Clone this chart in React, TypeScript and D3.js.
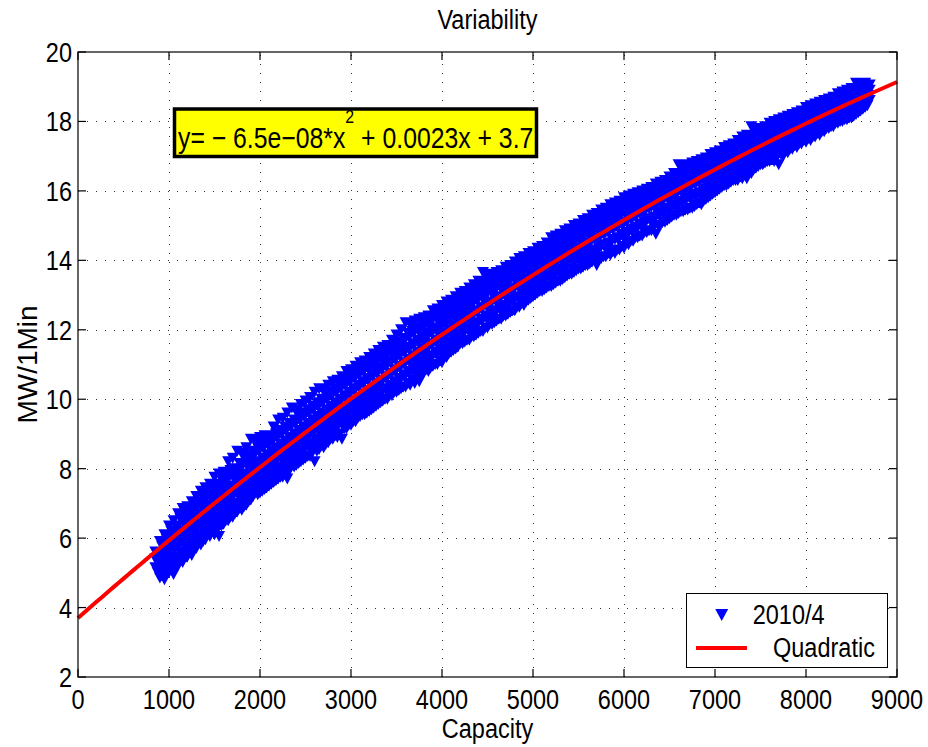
import React from 'react';
import * as d3 from 'd3';

// ---------- data ----------
const xTicks = [0, 1000, 2000, 3000, 4000, 5000, 6000, 7000, 8000, 9000];
const yTicks = [2, 4, 6, 8, 10, 12, 14, 16, 18, 20];
const fitCoefficients = [-6.5e-8, 0.0023, 3.7]; // y = a*x^2 + b*x + c (shown in the chart)
const titleText = 'Variability';
const xLabel = 'Capacity';
const yLabel = 'MW/1Min';
const legendLabels = ['2010/4', 'Quadratic'];

// capacity (MW) -> observed MW/1Min values (outer part of the cloud)
const scatterColumns: [number, number[]][] = [
  [850, [5.15, 5.4, 5.6]],
  [900, [4.85, 5.1, 5.35, 5.6, 5.9]],
  [950, [4.8, 5.05, 5.3, 5.55, 5.85, 6.1]],
  [1000, [5.0, 5.25, 5.5, 5.8, 6.05, 6.35]],
  [1050, [4.95, 5.3, 5.6, 5.9, 6.2, 6.5]],
  [1100, [5.2, 5.45, 5.75, 6.05, 6.35, 6.7]],
  [1150, [5.3, 5.6, 5.9, 6.2, 6.5, 6.85]],
  [1200, [5.45, 5.7, 6.0, 6.3, 6.6, 6.9]],
  [1250, [5.5, 5.8, 6.1, 6.4, 6.75, 7.05]],
  [1300, [5.7, 5.95, 6.25, 6.55, 6.85, 7.2]],
  [1350, [5.8, 6.1, 6.4, 6.7, 7.0, 7.35]],
  [1400, [5.95, 6.2, 6.5, 6.8, 7.1, 7.45]],
  [1450, [6.05, 6.35, 6.6, 6.9, 7.25, 7.55]],
  [1500, [6.1, 6.4, 6.7, 7.0, 7.35, 7.75]],
  [1550, [6.05, 6.35, 6.75, 7.1, 7.45, 7.85]],
  [1600, [6.4, 6.65, 6.95, 7.25, 7.55, 7.9]],
  [1650, [6.5, 6.8, 7.05, 7.35, 7.7, 8.2]],
  [1700, [6.6, 6.9, 7.2, 7.5, 7.8, 8.3]],
  [1750, [6.75, 7.0, 7.3, 7.6, 7.9, 8.5]],
  [1800, [6.8, 7.05, 7.35, 7.7, 8.05, 8.45]],
  [1850, [6.95, 7.2, 7.5, 7.8, 8.15, 8.6]],
  [1900, [7.1, 7.35, 7.65, 7.95, 8.3, 8.85]],
  [1950, [7.3, 7.55, 7.8, 8.1, 8.45, 8.8]],
  [2000, [7.3, 7.6, 7.9, 8.2, 8.55, 8.9]],
  [2050, [7.4, 7.7, 8.0, 8.3, 8.65, 8.95]],
  [2100, [7.5, 7.8, 8.1, 8.4, 8.7, 8.95]],
  [2150, [7.6, 7.9, 8.2, 8.5, 8.85, 9.2]],
  [2200, [7.7, 8.0, 8.3, 8.6, 8.95, 9.4]],
  [2250, [7.75, 8.05, 8.4, 8.7, 9.05, 9.45]],
  [2300, [7.7, 8.1, 8.45, 8.8, 9.15, 9.6]],
  [2350, [8.1, 8.35, 8.6, 8.9, 9.25, 9.75]],
  [2400, [8.1, 8.4, 8.7, 9.0, 9.35, 9.7]],
  [2450, [8.2, 8.5, 8.8, 9.1, 9.45, 9.85]],
  [2500, [8.3, 8.6, 8.9, 9.2, 9.55, 9.95]],
  [2550, [8.35, 8.7, 9.0, 9.3, 9.65, 10.05]],
  [2600, [8.2, 8.6, 9.1, 9.4, 9.75, 10.2]],
  [2650, [8.55, 8.85, 9.15, 9.5, 9.85, 10.3]],
  [2700, [8.6, 8.9, 9.25, 9.6, 9.95, 10.3]],
  [2750, [8.75, 9.0, 9.35, 9.7, 10.05, 10.4]],
  [2800, [8.85, 9.1, 9.45, 9.8, 10.15, 10.5]],
  [2850, [8.9, 9.2, 9.55, 9.9, 10.25, 10.55]],
  [2900, [8.85, 9.3, 9.65, 10.0, 10.35, 10.65]],
  [2950, [9.15, 9.45, 9.75, 10.1, 10.45, 10.8]],
  [3000, [9.25, 9.55, 9.85, 10.2, 10.55, 10.85]],
  [3050, [9.35, 9.65, 9.95, 10.3, 10.65, 10.95]],
  [3100, [9.5, 9.75, 10.05, 10.4, 10.75, 11.05]],
  [3150, [9.55, 9.85, 10.15, 10.5, 10.85, 11.1]],
  [3200, [9.65, 9.95, 10.25, 10.6, 10.9, 11.2]],
  [3250, [9.75, 10.05, 10.35, 10.7, 11.0, 11.3]],
  [3300, [9.85, 10.15, 10.45, 10.8, 11.1, 11.4]],
  [3350, [9.95, 10.25, 10.55, 10.9, 11.2, 11.5]],
  [3400, [10.0, 10.3, 10.65, 11.0, 11.3, 11.55]],
  [3450, [10.1, 10.4, 10.75, 11.1, 11.4, 11.7]],
  [3500, [10.2, 10.5, 10.85, 11.2, 11.5, 11.85]],
  [3550, [10.3, 10.6, 10.95, 11.3, 11.6, 12.0]],
  [3600, [10.35, 10.7, 11.05, 11.4, 11.75, 12.2]],
  [3650, [10.4, 10.75, 11.1, 11.5, 11.85, 12.15]],
  [3700, [10.45, 10.85, 11.2, 11.6, 11.95, 12.25]],
  [3750, [10.5, 10.9, 11.3, 11.65, 12.0, 12.3]],
  [3800, [10.75, 11.05, 11.4, 11.75, 12.1, 12.35]],
  [3850, [10.8, 11.15, 11.5, 11.85, 12.2, 12.4]],
  [3900, [10.95, 11.25, 11.6, 11.95, 12.3, 12.55]],
  [3950, [11.0, 11.3, 11.65, 12.0, 12.35, 12.6]],
  [4000, [11.05, 11.4, 11.75, 12.1, 12.45, 12.7]],
  [4050, [11.2, 11.5, 11.85, 12.2, 12.5, 12.8]],
  [4100, [11.35, 11.6, 11.95, 12.3, 12.6, 12.85]],
  [4150, [11.45, 11.7, 12.05, 12.4, 12.7, 12.95]],
  [4200, [11.6, 11.85, 12.15, 12.5, 12.8, 13.05]],
  [4250, [11.65, 11.95, 12.25, 12.6, 12.9, 13.1]],
  [4300, [11.7, 12.0, 12.35, 12.7, 13.0, 13.2]],
  [4350, [11.8, 12.1, 12.45, 12.8, 13.1, 13.3]],
  [4400, [11.9, 12.2, 12.55, 12.9, 13.2, 13.4]],
  [4450, [11.95, 12.3, 12.65, 12.95, 13.3, 13.65]],
  [4500, [12.05, 12.35, 12.7, 13.05, 13.35, 13.55]],
  [4550, [12.15, 12.45, 12.8, 13.1, 13.4, 13.6]],
  [4600, [12.25, 12.55, 12.9, 13.2, 13.5, 13.65]],
  [4650, [12.3, 12.6, 12.95, 13.25, 13.55, 13.7]],
  [4700, [12.4, 12.7, 13.05, 13.35, 13.65, 13.8]],
  [4750, [12.5, 12.8, 13.15, 13.45, 13.7, 13.85]],
  [4800, [12.55, 12.9, 13.2, 13.5, 13.8, 13.95]],
  [4850, [12.65, 12.95, 13.3, 13.6, 13.9, 14.05]],
  [4900, [12.7, 13.05, 13.4, 13.7, 13.95, 14.1]],
  [4950, [12.85, 13.15, 13.45, 13.75, 14.05, 14.2]],
  [5000, [12.95, 13.25, 13.55, 13.85, 14.1, 14.25]],
  [5050, [13.05, 13.35, 13.65, 13.95, 14.2, 14.35]],
  [5100, [13.1, 13.4, 13.7, 14.0, 14.25, 14.4]],
  [5150, [13.2, 13.5, 13.8, 14.1, 14.35, 14.5]],
  [5200, [13.25, 13.55, 13.9, 14.2, 14.45, 14.65]],
  [5250, [13.35, 13.65, 13.95, 14.25, 14.5, 14.7]],
  [5300, [13.4, 13.7, 14.05, 14.35, 14.6, 14.75]],
  [5350, [13.5, 13.8, 14.1, 14.4, 14.65, 14.85]],
  [5400, [13.6, 13.9, 14.2, 14.5, 14.75, 14.9]],
  [5450, [13.65, 13.95, 14.3, 14.55, 14.8, 15.0]],
  [5500, [13.75, 14.05, 14.35, 14.65, 14.9, 15.05]],
  [5550, [13.8, 14.1, 14.45, 14.7, 14.95, 15.15]],
  [5600, [13.85, 14.2, 14.5, 14.8, 15.05, 15.2]],
  [5650, [13.95, 14.25, 14.6, 14.85, 15.1, 15.3]],
  [5700, [13.85, 14.3, 14.65, 14.95, 15.2, 15.35]],
  [5750, [14.05, 14.4, 14.75, 15.0, 15.25, 15.45]],
  [5800, [14.1, 14.45, 14.8, 15.1, 15.35, 15.5]],
  [5850, [14.15, 14.5, 14.9, 15.15, 15.4, 15.6]],
  [5900, [14.2, 14.6, 14.95, 15.25, 15.5, 15.65]],
  [5950, [14.3, 14.65, 15.05, 15.3, 15.55, 15.7]],
  [6000, [14.35, 14.7, 15.1, 15.4, 15.6, 15.8]],
  [6050, [14.45, 14.8, 15.2, 15.45, 15.7, 15.85]],
  [6100, [14.55, 14.9, 15.25, 15.5, 15.75, 15.9]],
  [6150, [14.65, 14.95, 15.35, 15.6, 15.8, 15.95]],
  [6200, [14.7, 15.05, 15.4, 15.65, 15.85, 16.0]],
  [6250, [14.8, 15.15, 15.5, 15.75, 15.95, 16.05]],
  [6300, [14.85, 15.2, 15.55, 15.8, 16.0, 16.1]],
  [6350, [14.75, 15.25, 15.6, 15.85, 16.05, 16.2]],
  [6400, [15.0, 15.35, 15.7, 15.95, 16.1, 16.25]],
  [6450, [15.1, 15.45, 15.8, 16.0, 16.2, 16.3]],
  [6500, [15.2, 15.5, 15.85, 16.1, 16.25, 16.4]],
  [6550, [15.3, 15.6, 15.9, 16.15, 16.35, 16.5]],
  [6600, [15.35, 15.65, 16.0, 16.25, 16.45, 16.75]],
  [6650, [15.4, 15.7, 16.05, 16.3, 16.5, 16.7]],
  [6700, [15.45, 15.8, 16.15, 16.4, 16.6, 16.75]],
  [6750, [15.5, 15.85, 16.2, 16.45, 16.65, 16.8]],
  [6800, [15.6, 15.9, 16.25, 16.5, 16.7, 16.85]],
  [6850, [15.6, 15.95, 16.35, 16.6, 16.75, 16.9]],
  [6900, [15.75, 16.05, 16.4, 16.65, 16.85, 16.95]],
  [6950, [15.85, 16.15, 16.5, 16.7, 16.9, 17.05]],
  [7000, [15.95, 16.25, 16.55, 16.8, 17.0, 17.1]],
  [7050, [16.05, 16.3, 16.6, 16.85, 17.05, 17.15]],
  [7100, [16.15, 16.4, 16.7, 16.95, 17.15, 17.25]],
  [7150, [16.2, 16.45, 16.75, 17.0, 17.2, 17.3]],
  [7200, [16.3, 16.55, 16.85, 17.1, 17.25, 17.35]],
  [7250, [16.3, 16.6, 16.9, 17.15, 17.3, 17.45]],
  [7300, [16.35, 16.65, 16.95, 17.2, 17.4, 17.55]],
  [7350, [16.35, 16.7, 17.0, 17.25, 17.45, 17.6]],
  [7400, [16.5, 16.8, 17.1, 17.35, 17.55, 17.85]],
  [7450, [16.65, 16.9, 17.15, 17.4, 17.6, 17.75]],
  [7500, [16.75, 17.0, 17.25, 17.5, 17.7, 17.8]],
  [7550, [16.8, 17.05, 17.3, 17.55, 17.75, 17.85]],
  [7600, [16.85, 17.1, 17.35, 17.6, 17.8, 17.95]],
  [7650, [16.85, 17.15, 17.4, 17.65, 17.85, 18.0]],
  [7700, [16.75, 17.2, 17.45, 17.7, 17.9, 18.05]],
  [7750, [17.0, 17.3, 17.55, 17.8, 17.95, 18.1]],
  [7800, [17.1, 17.35, 17.6, 17.85, 18.0, 18.15]],
  [7850, [17.2, 17.45, 17.7, 17.9, 18.1, 18.2]],
  [7900, [17.25, 17.5, 17.75, 17.95, 18.15, 18.25]],
  [7950, [17.35, 17.6, 17.8, 18.05, 18.2, 18.3]],
  [8000, [17.4, 17.65, 17.9, 18.1, 18.25, 18.4]],
  [8050, [17.45, 17.7, 17.95, 18.15, 18.3, 18.45]],
  [8100, [17.55, 17.8, 18.0, 18.2, 18.35, 18.5]],
  [8150, [17.6, 17.85, 18.05, 18.25, 18.4, 18.55]],
  [8200, [17.7, 17.9, 18.1, 18.3, 18.45, 18.6]],
  [8250, [17.8, 18.0, 18.2, 18.4, 18.55, 18.65]],
  [8300, [17.85, 18.05, 18.25, 18.45, 18.6, 18.7]],
  [8350, [17.95, 18.15, 18.3, 18.5, 18.65, 18.8]],
  [8400, [18.0, 18.2, 18.4, 18.55, 18.7, 18.85]],
  [8450, [18.05, 18.25, 18.45, 18.6, 18.75, 18.9]],
  [8500, [18.1, 18.3, 18.5, 18.65, 18.8, 18.95]],
  [8550, [18.2, 18.4, 18.55, 18.7, 18.9, 19.1]],
  [8600, [18.3, 18.45, 18.6, 18.75, 18.95, 19.1]],
  [8650, [18.4, 18.55, 18.7, 18.85, 19.0, 19.1]],
  [8700, [18.6, 18.75, 18.9, 19.05]],
];

// capacity (MW) -> observed MW/1Min values (dense core of the cloud)
const scatterCore: [number, number[]][] = [
  [875, [5.0, 5.3, 5.55]],
  [925, [5.0, 5.25, 5.5, 5.75]],
  [975, [4.95, 5.2, 5.45, 5.7, 5.95]],
  [1025, [5.15, 5.4, 5.65, 5.95, 6.2]],
  [1075, [5.1, 5.45, 5.75, 6.05, 6.35]],
  [1125, [5.35, 5.6, 5.9, 6.2, 6.55]],
  [1175, [5.45, 5.75, 6.05, 6.35, 6.65]],
  [1225, [5.6, 5.85, 6.15, 6.45, 6.8]],
  [1275, [5.65, 5.95, 6.25, 6.6, 6.9]],
  [1325, [5.85, 6.1, 6.4, 6.7, 7.05]],
  [1375, [5.9, 6.25, 6.55, 6.85, 7.2]],
  [1425, [6.1, 6.35, 6.65, 6.95, 7.3]],
  [1475, [6.2, 6.5, 6.8, 7.1, 7.45]],
  [1525, [6.25, 6.55, 6.9, 7.2, 7.55]],
  [1575, [6.35, 6.65, 7.0, 7.3, 7.7]],
  [1625, [6.5, 6.8, 7.1, 7.4, 7.8]],
  [1675, [6.6, 6.9, 7.2, 7.5, 7.95]],
  [1725, [6.7, 7.0, 7.3, 7.65, 8.0]],
  [1775, [6.85, 7.15, 7.45, 7.75, 8.15]],
  [1825, [6.9, 7.2, 7.5, 7.85, 8.3]],
  [1875, [7.05, 7.35, 7.65, 8.0, 8.4]],
  [1925, [7.2, 7.45, 7.75, 8.1, 8.5]],
  [1975, [7.25, 7.55, 7.85, 8.2, 8.6]],
  [2025, [7.35, 7.65, 7.95, 8.3, 8.7]],
  [2075, [7.45, 7.75, 8.05, 8.4, 8.8]],
  [2125, [7.55, 7.85, 8.15, 8.5, 8.9]],
  [2175, [7.65, 7.95, 8.25, 8.6, 9.0]],
  [2225, [7.75, 8.05, 8.35, 8.7, 9.1]],
  [2275, [7.85, 8.15, 8.45, 8.8, 9.2]],
  [2325, [7.95, 8.25, 8.55, 8.9, 9.3]],
  [2375, [8.05, 8.35, 8.65, 9.0, 9.4]],
  [2425, [8.15, 8.45, 8.75, 9.1, 9.5]],
  [2475, [8.25, 8.55, 8.85, 9.2, 9.6]],
  [2525, [8.35, 8.65, 8.95, 9.3, 9.7]],
  [2575, [8.45, 8.75, 9.05, 9.4, 9.8]],
  [2625, [8.5, 8.85, 9.15, 9.5, 9.9]],
  [2675, [8.65, 8.95, 9.25, 9.6, 10.0]],
  [2725, [8.7, 9.05, 9.35, 9.7, 10.1]],
  [2775, [8.85, 9.15, 9.45, 9.8, 10.2]],
  [2825, [8.95, 9.25, 9.55, 9.9, 10.3]],
  [2875, [9.0, 9.35, 9.65, 10.0, 10.4]],
  [2925, [9.15, 9.45, 9.75, 10.1, 10.5]],
  [2975, [9.25, 9.55, 9.85, 10.2, 10.6]],
  [3025, [9.35, 9.65, 9.95, 10.3, 10.7]],
  [3075, [9.45, 9.75, 10.05, 10.4, 10.8]],
  [3125, [9.55, 9.85, 10.15, 10.5, 10.9]],
  [3175, [9.6, 9.95, 10.25, 10.6, 10.95]],
  [3225, [9.7, 10.05, 10.35, 10.7, 11.05]],
  [3275, [9.8, 10.15, 10.45, 10.8, 11.15]],
  [3325, [9.9, 10.25, 10.55, 10.9, 11.25]],
  [3375, [10.0, 10.3, 10.65, 11.0, 11.35]],
  [3425, [10.1, 10.4, 10.75, 11.1, 11.45]],
  [3475, [10.2, 10.5, 10.85, 11.2, 11.55]],
  [3525, [10.25, 10.6, 10.95, 11.3, 11.65]],
  [3575, [10.35, 10.7, 11.05, 11.4, 11.75]],
  [3625, [10.45, 10.8, 11.15, 11.5, 11.9]],
  [3675, [10.55, 10.9, 11.25, 11.6, 11.95]],
  [3725, [10.65, 11.0, 11.35, 11.7, 12.05]],
  [3775, [10.7, 11.1, 11.45, 11.8, 12.15]],
  [3825, [10.85, 11.2, 11.55, 11.9, 12.25]],
  [3875, [10.9, 11.25, 11.6, 12.0, 12.35]],
  [3925, [11.0, 11.35, 11.7, 12.05, 12.45]],
  [3975, [11.1, 11.45, 11.8, 12.15, 12.5]],
  [4025, [11.2, 11.55, 11.9, 12.25, 12.6]],
  [4075, [11.3, 11.65, 12.0, 12.35, 12.7]],
  [4125, [11.4, 11.75, 12.1, 12.45, 12.8]],
  [4175, [11.5, 11.85, 12.2, 12.55, 12.9]],
  [4225, [11.6, 11.95, 12.3, 12.65, 12.95]],
  [4275, [11.7, 12.05, 12.4, 12.75, 13.05]],
  [4325, [11.8, 12.15, 12.5, 12.85, 13.15]],
  [4375, [11.85, 12.2, 12.55, 12.9, 13.25]],
  [4425, [11.95, 12.3, 12.65, 13.0, 13.3]],
  [4475, [12.05, 12.4, 12.75, 13.1, 13.4]],
  [4525, [12.15, 12.5, 12.8, 13.15, 13.45]],
  [4575, [12.2, 12.55, 12.9, 13.25, 13.5]],
  [4625, [12.3, 12.65, 12.95, 13.3, 13.6]],
  [4675, [12.4, 12.7, 13.05, 13.4, 13.65]],
  [4725, [12.45, 12.8, 13.1, 13.45, 13.75]],
  [4775, [12.55, 12.85, 13.2, 13.55, 13.8]],
  [4825, [12.65, 12.95, 13.3, 13.6, 13.9]],
  [4875, [12.75, 13.05, 13.35, 13.7, 13.95]],
  [4925, [12.8, 13.1, 13.45, 13.75, 14.05]],
  [4975, [12.9, 13.2, 13.5, 13.85, 14.1]],
  [5025, [13.0, 13.3, 13.6, 13.9, 14.2]],
  [5075, [13.1, 13.4, 13.7, 14.0, 14.25]],
  [5125, [13.15, 13.45, 13.75, 14.05, 14.3]],
  [5175, [13.25, 13.55, 13.85, 14.15, 14.4]],
  [5225, [13.3, 13.6, 13.9, 14.2, 14.45]],
  [5275, [13.4, 13.7, 14.0, 14.3, 14.55]],
  [5325, [13.45, 13.75, 14.05, 14.35, 14.6]],
  [5375, [13.55, 13.85, 14.15, 14.45, 14.7]],
  [5425, [13.6, 13.9, 14.2, 14.5, 14.75]],
  [5475, [13.7, 14.0, 14.3, 14.6, 14.85]],
  [5525, [13.75, 14.05, 14.35, 14.65, 14.9]],
  [5575, [13.85, 14.15, 14.45, 14.75, 15.0]],
  [5625, [13.9, 14.2, 14.5, 14.8, 15.05]],
  [5675, [14.0, 14.3, 14.6, 14.9, 15.15]],
  [5725, [14.05, 14.35, 14.65, 14.95, 15.2]],
  [5775, [14.1, 14.45, 14.75, 15.05, 15.3]],
  [5825, [14.2, 14.5, 14.8, 15.1, 15.35]],
  [5875, [14.25, 14.6, 14.9, 15.2, 15.45]],
  [5925, [14.3, 14.65, 14.95, 15.25, 15.5]],
  [5975, [14.4, 14.75, 15.05, 15.35, 15.55]],
  [6025, [14.5, 14.8, 15.1, 15.4, 15.65]],
  [6075, [14.55, 14.9, 15.2, 15.5, 15.7]],
  [6125, [14.65, 14.95, 15.25, 15.55, 15.75]],
  [6175, [14.7, 15.05, 15.35, 15.6, 15.8]],
  [6225, [14.8, 15.1, 15.4, 15.7, 15.9]],
  [6275, [14.85, 15.2, 15.5, 15.75, 15.95]],
  [6325, [14.95, 15.25, 15.55, 15.8, 16.0]],
  [6375, [15.0, 15.35, 15.65, 15.9, 16.1]],
  [6425, [15.1, 15.4, 15.7, 15.95, 16.15]],
  [6475, [15.15, 15.5, 15.8, 16.05, 16.25]],
  [6525, [15.25, 15.55, 15.85, 16.1, 16.3]],
  [6575, [15.3, 15.6, 15.9, 16.15, 16.4]],
  [6625, [15.4, 15.7, 16.0, 16.25, 16.5]],
  [6675, [15.45, 15.75, 16.05, 16.3, 16.55]],
  [6725, [15.5, 15.8, 16.1, 16.35, 16.6]],
  [6775, [15.55, 15.9, 16.2, 16.45, 16.65]],
  [6825, [15.65, 15.95, 16.25, 16.5, 16.75]],
  [6875, [15.7, 16.0, 16.3, 16.55, 16.8]],
  [6925, [15.8, 16.1, 16.4, 16.65, 16.85]],
  [6975, [15.9, 16.2, 16.45, 16.7, 16.95]],
  [7025, [16.0, 16.25, 16.5, 16.75, 17.0]],
  [7075, [16.1, 16.35, 16.6, 16.85, 17.05]],
  [7125, [16.15, 16.4, 16.65, 16.9, 17.1]],
  [7175, [16.25, 16.5, 16.75, 17.0, 17.2]],
  [7225, [16.3, 16.55, 16.8, 17.05, 17.25]],
  [7275, [16.4, 16.6, 16.85, 17.1, 17.3]],
  [7325, [16.45, 16.7, 16.95, 17.15, 17.35]],
  [7375, [16.55, 16.8, 17.0, 17.25, 17.45]],
  [7425, [16.6, 16.85, 17.05, 17.3, 17.5]],
  [7475, [16.7, 16.9, 17.15, 17.35, 17.6]],
  [7525, [16.75, 17.0, 17.2, 17.45, 17.65]],
  [7575, [16.85, 17.05, 17.3, 17.5, 17.7]],
  [7625, [16.9, 17.1, 17.35, 17.55, 17.75]],
  [7675, [16.95, 17.2, 17.4, 17.6, 17.8]],
  [7725, [17.05, 17.25, 17.45, 17.7, 17.9]],
  [7775, [17.15, 17.35, 17.55, 17.75, 17.95]],
  [7825, [17.2, 17.4, 17.6, 17.8, 18.0]],
  [7875, [17.3, 17.5, 17.65, 17.85, 18.05]],
  [7925, [17.35, 17.55, 17.75, 17.95, 18.1]],
  [7975, [17.45, 17.6, 17.8, 18.0, 18.15]],
  [8025, [17.5, 17.7, 17.85, 18.05, 18.2]],
  [8075, [17.55, 17.75, 17.95, 18.1, 18.25]],
  [8125, [17.65, 17.8, 18.0, 18.15, 18.3]],
  [8175, [17.7, 17.9, 18.05, 18.2, 18.35]],
  [8225, [17.8, 17.95, 18.15, 18.3, 18.45]],
  [8275, [17.85, 18.05, 18.2, 18.35, 18.5]],
  [8325, [17.95, 18.1, 18.25, 18.4, 18.55]],
  [8375, [18.0, 18.15, 18.3, 18.45, 18.6]],
  [8425, [18.05, 18.2, 18.35, 18.5, 18.65]],
  [8475, [18.1, 18.25, 18.4, 18.55, 18.7]],
  [8525, [18.15, 18.3, 18.45, 18.6, 18.75]],
  [8575, [18.25, 18.4, 18.55, 18.7, 18.85]],
  [8625, [18.35, 18.5, 18.65, 18.8, 18.95]],
  [8675, [18.45, 18.6, 18.75, 18.9, 19.0]],
];

// ---------- layout ----------
const W = 928;
const H = 747;
const FONT = '"Liberation Sans", Arial, Helvetica, sans-serif';
const SX = 0.84; // horizontal condensation of the MATLAB font
const FS = 28;
const BLUE = '#0000ff';
const RED = '#ff0000';

const x = d3.scaleLinear().domain([0, 9000]).range([78, 897]);
const y = d3.scaleLinear().domain([2, 20]).range([677, 52]);

const fit = (v: number) => fitCoefficients[0] * v * v + fitCoefficients[1] * v + fitCoefficients[2];

function tri(cx: number, cy: number, w = 12, h = 11) {
  return `M${cx - w / 2},${cy - h / 2}L${cx + w / 2},${cy - h / 2}L${cx},${cy + h / 2}Z`;
}

function T(props: {
  x: number; y: number; size?: number; anchor?: string; rotate?: number; sx?: number; children: React.ReactNode;
}) {
  const { x: tx, y: ty, size = FS, anchor = 'start', rotate, sx = SX, children } = props;
  const tr = `translate(${tx},${ty})${rotate ? ` rotate(${rotate})` : ''} scale(${sx},1)`;
  return (
    <text transform={tr} fontSize={size} textAnchor={anchor} fontFamily={FONT} fill="#000">
      {children}
    </text>
  );
}

export default function App() {
  const points = [...scatterColumns, ...scatterCore].flatMap(([cx, ys]) =>
    ys.map((v) => [cx, v] as [number, number])
  );
  const scatterPath = points.map(([px, py]) => tri(x(px), y(py))).join('');

  const curveXs = d3.range(0, 9001, 50);
  const line = d3
    .line<number>()
    .x((d) => x(d))
    .y((d) => y(fit(d)));

  const [x0, x1] = x.range();
  const [yB, yT] = y.range();
  const tickLen = 8;

  return (
    <svg
      width={W}
      height={H}
      style={{ position: 'absolute', left: 0, top: 0, background: '#fff' }}
      xmlns="http://www.w3.org/2000/svg"
    >
      <rect x={0} y={0} width={W} height={H} fill="#fff" />
      {/* grid */}
      <g stroke="#333" strokeWidth={1} strokeDasharray="1 8">
        {xTicks.slice(1, -1).map((t) => (
          <line key={`gx${t}`} x1={x(t) + 0.5} x2={x(t) + 0.5} y1={yB} y2={yT} />
        ))}
        {yTicks.slice(1, -1).map((t) => (
          <line key={`gy${t}`} x1={x0} x2={x1} y1={Math.round(y(t)) + 0.5} y2={Math.round(y(t)) + 0.5} />
        ))}
      </g>

      {/* scatter */}
      <path d={scatterPath} fill={BLUE} stroke="none" />

      {/* fit curve */}
      <path d={line(curveXs) || ''} fill="none" stroke={RED} strokeWidth={4} />

      {/* axes box and ticks */}
      <rect x={x0} y={yT} width={x1 - x0} height={yB - yT} fill="none" stroke="#000" strokeWidth={1.2} />
      <g stroke="#000" strokeWidth={1.2}>
        {xTicks.map((t) => (
          <g key={`tx${t}`}>
            <line x1={x(t)} x2={x(t)} y1={yB} y2={yB - tickLen} />
            <line x1={x(t)} x2={x(t)} y1={yT} y2={yT + tickLen} />
          </g>
        ))}
        {yTicks.map((t) => (
          <g key={`ty${t}`}>
            <line x1={x0} x2={x0 + tickLen} y1={y(t)} y2={y(t)} />
            <line x1={x1} x2={x1 - tickLen} y1={y(t)} y2={y(t)} />
          </g>
        ))}
      </g>

      {/* tick labels */}
      {xTicks.map((t) => (
        <T key={`lx${t}`} x={x(t)} y={709} anchor="middle">
          {String(t)}
        </T>
      ))}
      {yTicks.map((t) => (
        <T key={`ly${t}`} x={72} y={y(t) + 10} anchor="end">
          {String(t)}
        </T>
      ))}

      {/* titles */}
      <T x={(x0 + x1) / 2} y={29} anchor="middle">{titleText}</T>
      <T x={(x0 + x1) / 2} y={738} anchor="middle">{xLabel}</T>
      <T x={37} y={(yB + yT) / 2} anchor="middle" rotate={-90} sx={1}>{yLabel}</T>

      {/* equation box */}
      <rect x={174.5} y={109} width={362} height={47.5} fill="#ffff00" stroke="#000" strokeWidth={3.5} />
      <text transform={`translate(178,148) scale(${SX},1)`} fontSize={29.5} fontFamily={FONT} fill="#000">
        <tspan>{'y= \u2212 6.5e\u221208*x'}</tspan>
        <tspan fontSize={19} dy={-25}>2</tspan>
        <tspan dy={25}>{' + 0.0023x + 3.7'}</tspan>
      </text>

      {/* legend */}
      <rect x={686.5} y={593.5} width={201} height={74} fill="#fff" stroke="#000" strokeWidth={1} />
      <path d={tri(721.7, 615, 13, 12)} fill={BLUE} />
      <T x={752.7} y={624}>{legendLabels[0]}</T>
      <line x1={696} x2={747} y1={648} y2={648} stroke={RED} strokeWidth={4} />
      <T x={773} y={657}>{legendLabels[1]}</T>
    </svg>
  );
}
